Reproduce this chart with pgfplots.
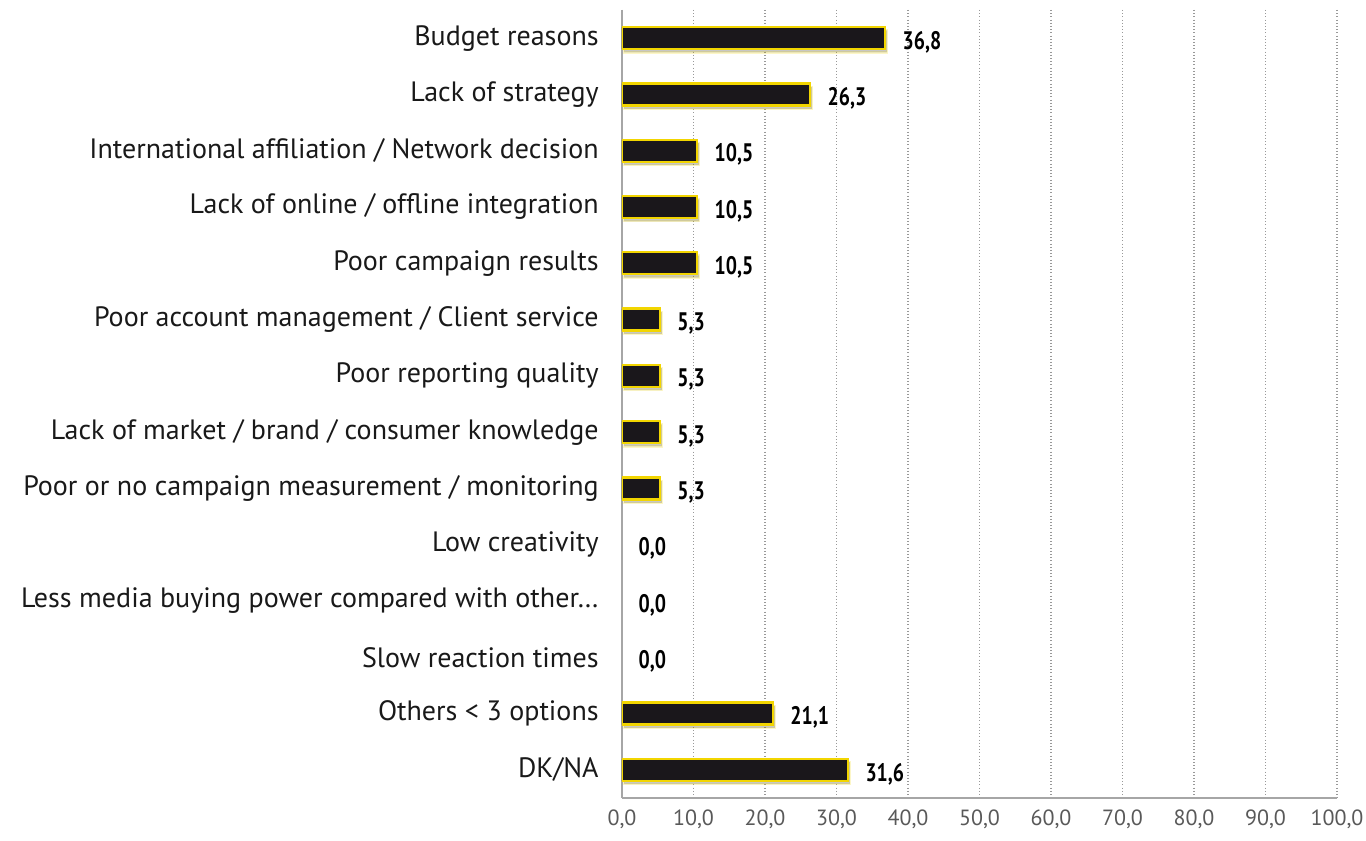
\documentclass[border=0pt]{standalone}
\usepackage{fontspec}
\setmainfont{PT Sans}
\newfontfamily\narrowbold{PT Sans Bold}[FakeStretch=0.78]
\usepackage{pgfplots}
\pgfplotsset{compat=1.18}
\usetikzlibrary{shadows}
\definecolor{barblack}{HTML}{1A171B}
\definecolor{baryellow}{HTML}{F2D500}
\definecolor{axisgray}{HTML}{A6A6A6}
\definecolor{ticktext}{HTML}{595959}
\begin{document}
\begin{tikzpicture}
\useasboundingbox (-466.5pt,-32.25pt) rectangle (558pt,598.5pt);
\begin{axis}[
  at={(0pt,0pt)}, anchor=south west,
  scale only axis, width=536.25pt, height=591pt,
  xmin=0, xmax=100, ymin=-0.5, ymax=13.5, y dir=reverse,
  xtick={0,10,...,100}, ytick={0,...,13},
  yticklabels={Budget reasons, Lack of strategy, International affiliation / Network decision, Lack of online / offline integration, Poor campaign results, Poor account management / Client service, Poor reporting quality, Lack of market / brand / consumer knowledge, Poor or no campaign measurement / monitoring, Low creativity, Less media buying power compared with other…, Slow reaction times, Others < 3 options, DK/NA},
  axis x line*=bottom, axis y line*=left,
  x axis line style={axisgray, line width=1.5pt},
  y axis line style={axisgray, line width=1.5pt},
  xmajorgrids, grid style={dotted, draw=gray!80, line width=0.9pt},
  major tick length=0pt,
  /pgf/number format/assume math mode=true,
  xticklabel={\pgfmathprintnumber[fixed, precision=1, zerofill, use comma]{\tick}},
  xticklabel style={font=\fontsize{16.5}{19}\selectfont, text=ticktext},
  yticklabel style={font=\fontsize{21}{24}\selectfont, text=black!90},
  xticklabel shift=5pt, yticklabel shift=14pt,
  nodes near coords style={font=\narrowbold\fontsize{19}{22}\selectfont, anchor=west, xshift=9pt, yshift=-3pt, text=black,
    /pgf/number format/.cd, fixed, precision=1, zerofill, use comma},
]
\addplot[xbar, bar width=16.5pt, bar shift=0pt, fill=barblack, draw=baryellow, line width=1.7pt,
  drop shadow={shadow xshift=1.5pt, shadow yshift=-2.5pt, fill=black, opacity=0.22},
  nodes near coords, point meta=x]
  coordinates {(36.8,0) (26.3,1) (10.5,2) (10.5,3) (10.5,4) (5.3,5) (5.3,6) (5.3,7) (5.3,8) (21.1,12) (31.6,13)};
\addplot[only marks, mark=none, nodes near coords, point meta=x]
  coordinates {(0,9) (0,10) (0,11)};
\end{axis}
\end{tikzpicture}
\end{document}
